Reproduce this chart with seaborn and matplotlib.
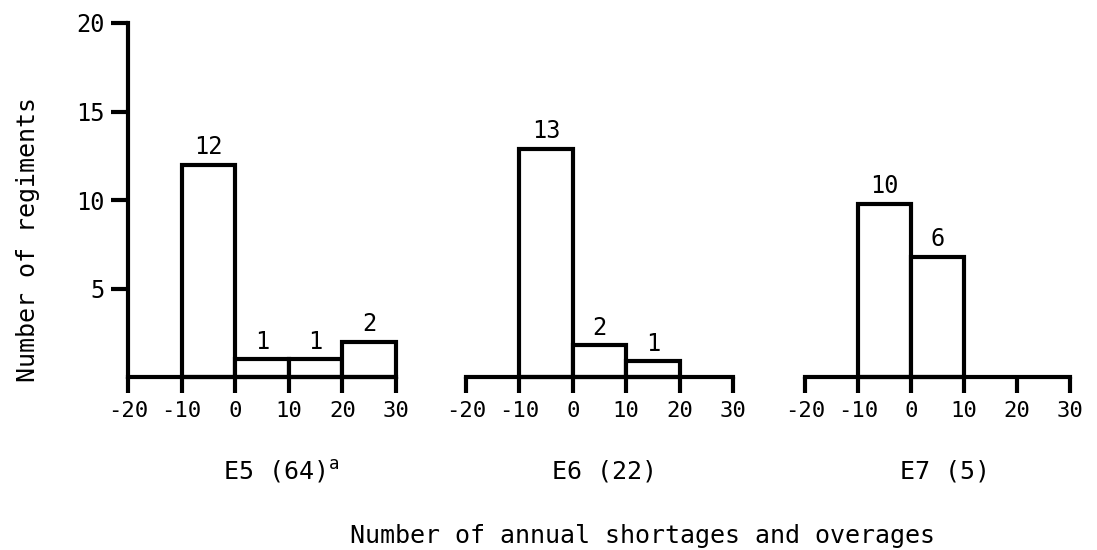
import numpy as np
import pandas as pd
import matplotlib
matplotlib.use("Agg")
import matplotlib.pyplot as plt
import seaborn as sns

# bin edges shared by the three grades
bin_edges = [-20, -10, 0, 10, 20, 30]
bin_centers = [-15, -5, 5, 15, 25]

# bar heights as drawn, and the counts printed above the bars
e5_heights = [0, 12, 1, 1, 2]
e6_heights = [0, 12.9, 1.8, 0.9, 0]
e7_heights = [0, 9.8, 6.8, 0, 0]
e5_labels = ["", "12", "1", "1", "2"]
e6_labels = ["", "13", "2", "1", ""]
e7_labels = ["", "10", "6", "", ""]

panel_titles = ["E5 (64)$^{\\mathtt{a}}$", "E6 (22)", "E7 (5)"]
y_ticks = [5, 10, 15, 20]
x_ticks = [-20, -10, 0, 10, 20, 30]

sns.set_theme(style="white")
plt.rcParams["font.family"] = ["DejaVu Sans Mono", "DejaVu Sans"]
plt.rcParams["mathtext.fontset"] = "dejavusans"
plt.rcParams["text.color"] = "black"

W, H = 1097, 550
fig = plt.figure(figsize=(W / 100, H / 100), dpi=100)

panels = [
    (128, 268, e5_heights, e5_labels),
    (466, 267, e6_heights, e6_labels),
    (805, 265, e7_heights, e7_labels),
]
base_y, top_y = 377, 23

lw = 3
for i, (left, width, heights, labels) in enumerate(panels):
    ax = fig.add_axes([left / W, 1 - base_y / H, width / W, (base_y - top_y) / H])
    df = pd.DataFrame({"x": bin_centers, "n": heights})
    sns.histplot(data=df, x="x", weights="n", bins=bin_edges, ax=ax,
                 color="white", edgecolor="black", linewidth=lw, alpha=1)
    for p in ax.patches:
        p.set_clip_on(False)
        if p.get_height() == 0:
            p.set_visible(False)
    for xc, h, lab in zip(bin_centers, heights, labels):
        if lab:
            ax.annotate(lab, (xc, h), xytext=(0, 12.5), textcoords="offset points",
                        ha="center", va="center", fontsize=17, color="black")
    ax.set_xlim(-20, 30)
    ax.set_ylim(0, 20)
    ax.set_xticks(x_ticks)
    ax.set_xticklabels([str(t) for t in x_ticks])
    ax.set_xlabel("")
    ax.set_ylabel("")
    for s in ["top", "right"]:
        ax.spines[s].set_visible(False)
    ax.spines["bottom"].set_linewidth(lw)
    ax.spines["bottom"].set_color("black")
    ax.tick_params(axis="x", direction="out", length=11.5, width=lw, pad=6,
                   labelsize=16, colors="black", bottom=True)
    if i == 0:
        ax.spines["left"].set_linewidth(lw)
        ax.spines["left"].set_color("black")
        ax.set_yticks(y_ticks)
        ax.tick_params(axis="y", direction="out", length=12, width=lw, pad=5,
                       labelsize=17, colors="black", left=True)
    else:
        ax.spines["left"].set_visible(False)
        ax.set_yticks([])
    ax.patch.set_alpha(0)

title_x = [281, 605, 945]
for tx, t in zip(title_x, panel_titles):
    fig.text(tx / W, 1 - 472 / H, t, ha="center", va="center", fontsize=18,
             color="black")

fig.text(643 / W, 1 - 536 / H, "Number of annual shortages and overages",
         ha="center", va="center", fontsize=18, color="black")
fig.text(28 / W, 1 - 239 / H, "Number of regiments", rotation=90,
         ha="center", va="center", fontsize=18, color="black")

fig.savefig("out.png", dpi=100, facecolor="white")
